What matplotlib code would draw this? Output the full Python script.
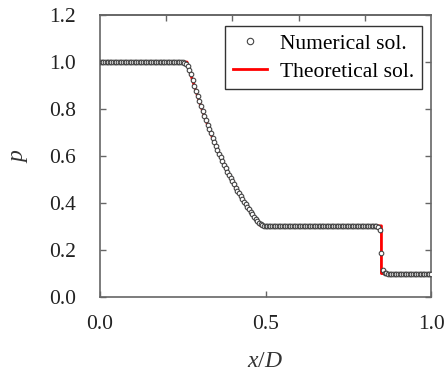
import numpy as np
import matplotlib
matplotlib.use('Agg')
import matplotlib.pyplot as plt

plt.rcParams['font.family'] = 'Liberation Serif'
plt.rcParams['mathtext.fontset'] = 'custom'
plt.rcParams['mathtext.it'] = 'Liberation Serif:italic'
plt.rcParams['mathtext.rm'] = 'Liberation Serif'

# Numerical solution (grid spacing 0.005)
num_x = np.round(np.arange(0, 1.0001, 0.005), 3)
num_p = ([1.0] * 51 +
         [0.998, 0.993, 0.983, 0.968, 0.948, 0.925, 0.900, 0.876, 0.854, 0.833,
          0.812, 0.791, 0.771, 0.752, 0.733, 0.714, 0.696, 0.678, 0.661, 0.644,
          0.627, 0.610, 0.595, 0.579, 0.564, 0.549, 0.534, 0.520, 0.506, 0.492,
          0.479, 0.466, 0.453, 0.441, 0.429, 0.417, 0.406, 0.394, 0.384, 0.373,
          0.362, 0.352, 0.342, 0.333, 0.324, 0.316, 0.309, 0.305, 0.303] +
         [0.301] * 9 + [0.303] * 58 +
         [0.302, 0.298, 0.286, 0.187, 0.117, 0.103, 0.101] +
         [0.1] * 27)

# Theoretical solution
th_x = [0.0, 0.263, 0.28, 0.30, 0.32, 0.34, 0.36, 0.38, 0.40, 0.42, 0.44,
        0.46, 0.48, 0.486, 0.850, 0.850, 1.0]
th_p = [1.0, 1.0, 0.921, 0.833, 0.752, 0.678, 0.610, 0.549, 0.492, 0.441,
        0.394, 0.352, 0.314, 0.303, 0.303, 0.1, 0.1]

fig = plt.figure(figsize=(4.44, 3.76), dpi=100)
ax = fig.add_axes([0.225, 0.21, 0.746, 0.75])

ax.plot(th_x, th_p, color='red', lw=2, label='Theoretical sol.', zorder=2)
ax.plot(num_x, num_p, 'o', mfc='white', mec='#444444', ms=3.3, mew=0.8,
        label='Numerical sol.', zorder=3)

ax.set_xlim(0, 1)
ax.set_ylim(0, 1.2)
ax.set_xticks([0, 0.5, 1.0])
ax.set_xticklabels(['0.0', '0.5', '1.0'])
ax.set_yticks(np.arange(0, 1.21, 0.2))
ax.set_yticklabels(['0.0', '0.2', '0.4', '0.6', '0.8', '1.0', '1.2'])
ax.tick_params(axis='x', direction='in', length=4, width=1, color='#666666',
               labelsize=15.5, pad=13, labelcolor='#222222')
ax.tick_params(axis='y', direction='in', length=4, width=1, color='#666666',
               labelsize=15.5, pad=17, labelcolor='#222222', right=True)

top = ax.secondary_xaxis('top')
top.set_xticks([0.2, 0.4, 0.6, 0.8])
top.set_xticklabels([])
top.tick_params(direction='in', length=4, width=1, color='#666666')
top.spines['top'].set_color('#666666')
top.spines['top'].set_linewidth(1.2)

for s in ax.spines.values():
    s.set_color('#666666')
    s.set_linewidth(1.2)

ax.set_xlabel('$x/D$', fontsize=17, color='#333333', labelpad=12)
ax.set_ylabel('$p$', fontsize=17, color='#333333', labelpad=14)

handles, labels = ax.get_legend_handles_labels()
leg = ax.legend(handles[::-1], labels[::-1], loc='upper right',
                bbox_to_anchor=(0.985, 0.975), fontsize=15.5, fancybox=False,
                edgecolor='#333333', framealpha=1, handlelength=1.6,
                handletextpad=0.6, borderpad=0.35, labelspacing=0.35,
                markerscale=1.4, borderaxespad=0.2)
leg.get_frame().set_linewidth(1)

plt.savefig('out.png', dpi=100)
